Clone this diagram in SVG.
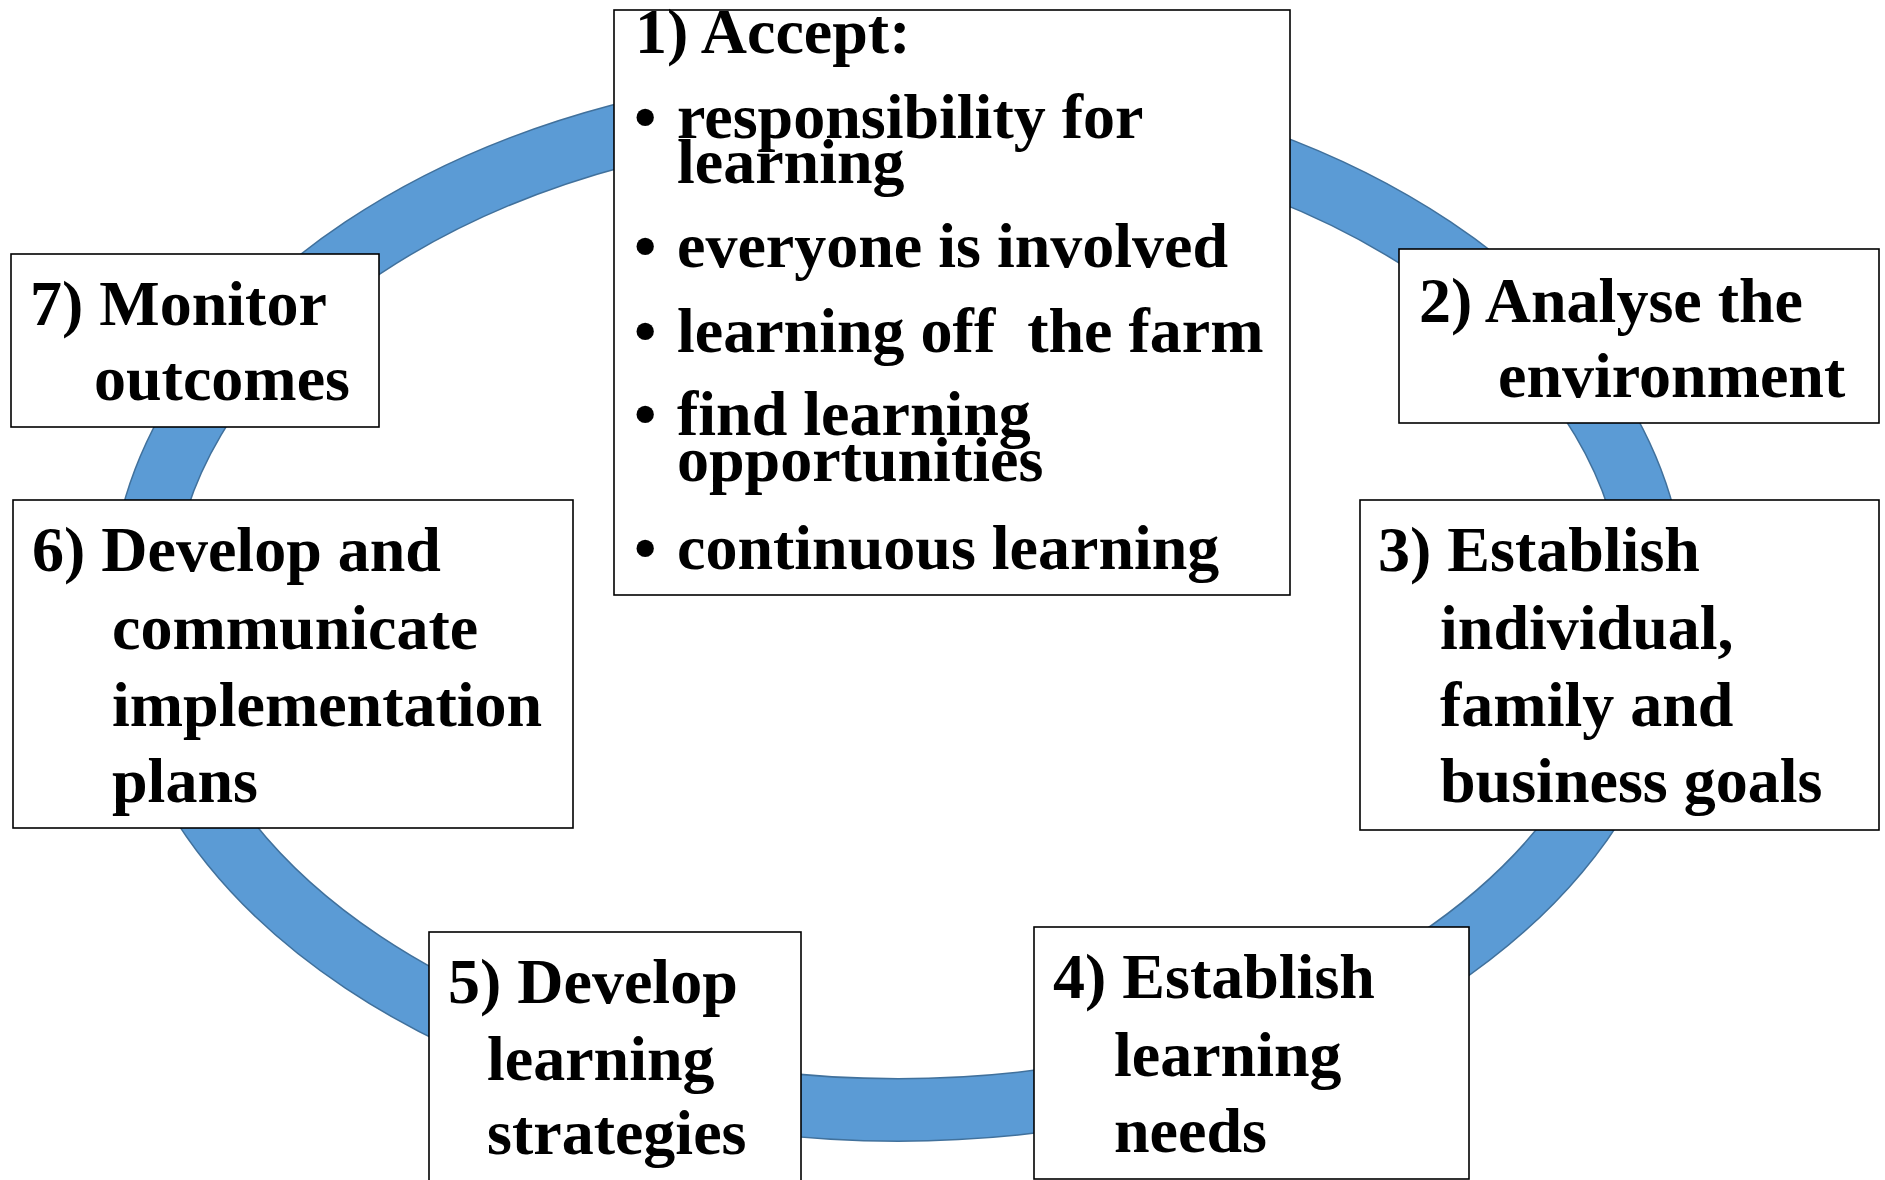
<svg xmlns="http://www.w3.org/2000/svg" width="1885" height="1180" viewBox="0 0 1885 1180">
<style>
.box{fill:#ffffff;stroke:#000000;stroke-width:1.6}
.t{font-family:"Liberation Serif","Times New Roman",serif;font-weight:bold;font-size:64px;fill:#000000}
</style>
<rect width="1885" height="1180" fill="#ffffff"/>
<g id="connectors">
<ellipse cx="898" cy="605" rx="757" ry="505" fill="none" stroke="#41719C" stroke-width="64"/>
<ellipse cx="898" cy="605" rx="757" ry="505" fill="none" stroke="#5B9BD5" stroke-width="61"/>
</g>
<g id="node1">
<rect class="box" x="614" y="10" width="676" height="585"/>
<text class="t" x="635" y="53">1) Accept:</text>
<text class="t" x="634" y="138">•</text><text class="t" x="677" y="138">responsibility for</text>
<text class="t" x="677" y="183">learning</text>
<text class="t" x="634" y="267">•</text><text class="t" x="677" y="267">everyone is involved</text>
<text class="t" x="634" y="352">•</text><text class="t" x="677" y="352" xml:space="preserve">learning off  the farm</text>
<text class="t" x="634" y="435">•</text><text class="t" x="677" y="435">find learning</text>
<text class="t" x="677" y="481">opportunities</text>
<text class="t" x="634" y="569">•</text><text class="t" x="677" y="569">continuous learning</text>
</g>
<g id="node2">
<rect class="box" x="1399" y="249" width="480" height="174"/>
<text class="t" x="1419" y="322">2) Analyse the</text>
<text class="t" x="1498" y="397">environment</text>
</g>
<g id="node3">
<rect class="box" x="1360" y="500" width="519" height="330"/>
<text class="t" x="1378" y="571">3) Establish</text>
<text class="t" x="1440" y="649">individual,</text>
<text class="t" x="1440" y="726">family and</text>
<text class="t" x="1440" y="802">business goals</text>
</g>
<g id="node4">
<rect class="box" x="1034" y="927" width="435" height="252"/>
<text class="t" x="1053" y="998">4) Establish</text>
<text class="t" x="1114" y="1076">learning</text>
<text class="t" x="1114" y="1152">needs</text>
</g>
<g id="node5">
<rect class="box" x="429" y="932" width="372" height="260"/>
<text class="t" x="448" y="1003">5) Develop</text>
<text class="t" x="487" y="1080">learning</text>
<text class="t" x="487" y="1154">strategies</text>
</g>
<g id="node6">
<rect class="box" x="13" y="500" width="560" height="328"/>
<text class="t" x="32" y="571">6) Develop and</text>
<text class="t" x="112" y="649">communicate</text>
<text class="t" x="112" y="726">implementation</text>
<text class="t" x="112" y="802">plans</text>
</g>
<g id="node7">
<rect class="box" x="11" y="254" width="368" height="173"/>
<text class="t" x="30" y="325">7) Monitor</text>
<text class="t" x="94" y="400">outcomes</text>
</g>
</svg>
